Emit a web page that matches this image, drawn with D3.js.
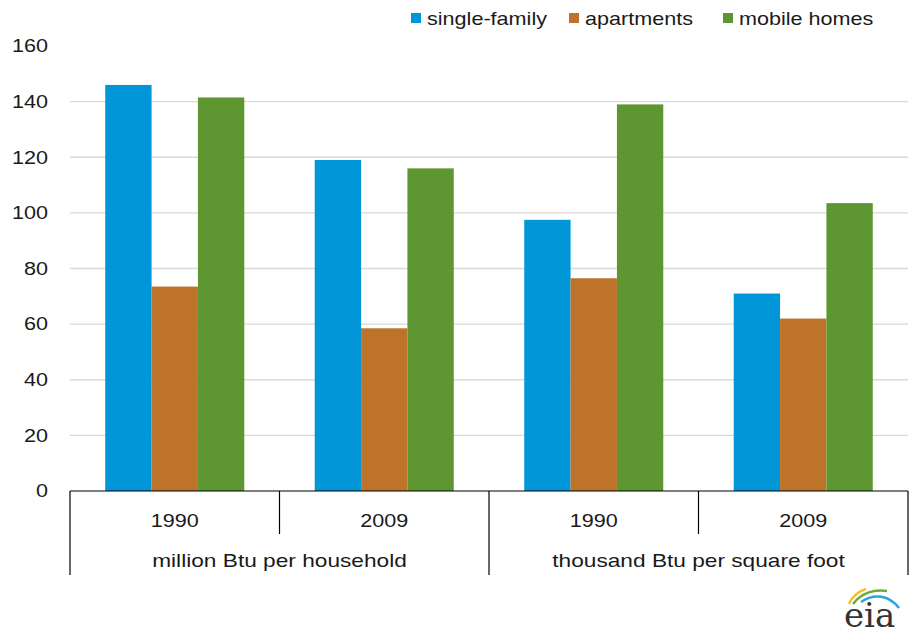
<!DOCTYPE html>
<html>
<head>
<meta charset="utf-8">
<script src="https://cdn.jsdelivr.net/npm/d3@7"></script>
<style>
  body { margin: 0; background: #fff; }
  text { font-family: "Liberation Sans", Arial, sans-serif; fill: #1a1a1a; }
</style>
</head>
<body>
<div id="chart"></div>
<script>
// data
const groups = ["million Btu per household", "thousand Btu per square foot"];
const years = ["1990", "2009"];
const series = ["single-family", "apartments", "mobile homes"];
const singleFamily = [146, 119, 97.5, 71];
const apartments = [73.5, 58.5, 76.5, 62];
const mobileHomes = [141.5, 116, 139, 103.5];
const yTicks = [0, 20, 40, 60, 80, 100, 120, 140, 160];
const colors = ["#0096d7", "#bd732a", "#5e9732"];

const W = 916, H = 635;
const margin = {top: 46, right: 8, bottom: 144, left: 70};
const width = W - margin.left - margin.right,
      height = H - margin.top - margin.bottom;
// the original text is a bit wider than Arial
const sx = 1.2;

const svg = d3.select("#chart").append("svg")
    .attr("width", W)
    .attr("height", H);

const g = svg.append("g")
    .attr("transform", `translate(${margin.left}, ${margin.top})`);

// categories: group x year
const cats = [];
groups.forEach((gr, gi) => years.forEach((yr, yi) => cats.push({group: gr, year: yr, key: gi + "-" + yr})));
const values = [singleFamily, apartments, mobileHomes];
const rows = cats.map((c, i) => ({...c, vals: values.map(v => v[i])}));

const x = d3.scaleBand()
    .domain(cats.map(d => d.key))
    .range([0, width])
    .paddingInner(0)
    .paddingOuter(0);

const xInner = d3.scaleBand()
    .domain(series)
    .range([0, x.bandwidth()])
    .paddingOuter(0.76)
    .paddingInner(0);

const y = d3.scaleLinear()
    .domain([0, 160])
    .range([height, 0]);

// gridlines
g.append("g")
  .selectAll("line")
  .data(yTicks.filter(t => t > 0 && t < 160))
  .enter()
  .append("line")
    .attr("x1", 0)
    .attr("x2", width)
    .attr("y1", d => y(d))
    .attr("y2", d => y(d))
    .attr("stroke", "#d9d9d9")
    .attr("stroke-width", 1.3);

// y axis labels
const yAxis = g.append("g")
    .call(d3.axisLeft(y).tickValues(yTicks).tickSize(0).tickPadding(22));
yAxis.select(".domain").remove();
yAxis.selectAll("text")
    .attr("x", 0)
    .attr("transform", `translate(-22,0) scale(${sx},1)`)
    .style("font-size", "18px")
    .attr("fill", "#1a1a1a");

// bars
const grp = g.selectAll(".cat")
  .data(rows)
  .enter()
  .append("g")
    .attr("transform", d => `translate(${x(d.key)}, 0)`);

grp.selectAll("rect")
  .data(d => d.vals.map((v, i) => ({s: series[i], v: v, i: i})))
  .enter()
  .append("rect")
    .attr("x", d => xInner(d.s))
    .attr("y", d => y(d.v))
    .attr("width", xInner.bandwidth())
    .attr("height", d => height - y(d.v))
    .attr("fill", d => colors[d.i]);

// bottom multi-level axis
const axis = g.append("g").attr("transform", `translate(0, ${height})`);
axis.append("line")
    .attr("x1", 0).attr("x2", width)
    .attr("y1", 0).attr("y2", 0)
    .attr("stroke", "#000").attr("stroke-width", 1.2);

// separators: short between years, long between groups
const bounds = d3.range(cats.length + 1).map(i => i * x.bandwidth());
axis.selectAll(".sep")
  .data(bounds)
  .enter()
  .append("line")
    .attr("x1", d => d).attr("x2", d => d)
    .attr("y1", 0)
    .attr("y2", (d, i) => i % 2 === 0 ? 84 : 43)
    .attr("stroke", "#000").attr("stroke-width", 1.2);

axis.selectAll(".yr")
  .data(rows)
  .enter()
  .append("text")
    .attr("transform", d => `translate(${x(d.key) + x.bandwidth() / 2}, 36) scale(${sx},1)`)
    .attr("text-anchor", "middle")
    .style("font-size", "18px")
    .text(d => d.year);

axis.selectAll(".grp")
  .data(groups)
  .enter()
  .append("text")
    .attr("transform", (d, i) => `translate(${x(i + "-" + years[0]) + x.bandwidth()}, 76) scale(1.26,1)`)
    .attr("text-anchor", "middle")
    .style("font-size", "18px")
    .text(d => d);

// legend
const legendX = [411, 569, 723];
const legend = svg.append("g");
legend.selectAll("rect")
  .data(series)
  .enter()
  .append("rect")
    .attr("x", (d, i) => legendX[i])
    .attr("y", 13)
    .attr("width", 10).attr("height", 10)
    .attr("fill", (d, i) => colors[i]);
legend.selectAll("text")
  .data(series)
  .enter()
  .append("text")
    .attr("transform", (d, i) => `translate(${legendX[i] + 16}, 25) scale(${sx},1)`)
    .style("font-size", "18px")
    .text(d => d);

// eia logo
const logo = svg.append("g").attr("transform", "translate(842, 588)");
logo.append("path").attr("d", "M7,16 C11,7 17,3 24,1").attr("fill", "none").attr("stroke", "#f2c12e").attr("stroke-width", 2.5);
logo.append("path").attr("d", "M11,16 C19,5 32,1 45,3").attr("fill", "none").attr("stroke", "#6aab3a").attr("stroke-width", 2.5);
logo.append("path").attr("d", "M19,14 C32,5 47,7 57,20").attr("fill", "none").attr("stroke", "#2aa3dc").attr("stroke-width", 2.5);
logo.append("text")
    .attr("x", 2).attr("y", 39)
    .style("font-family", "'DejaVu Serif', 'Liberation Serif', serif")
    .style("font-size", "34px")
    .style("fill", "#333")
    .text("eia");
</script>
</body>
</html>
